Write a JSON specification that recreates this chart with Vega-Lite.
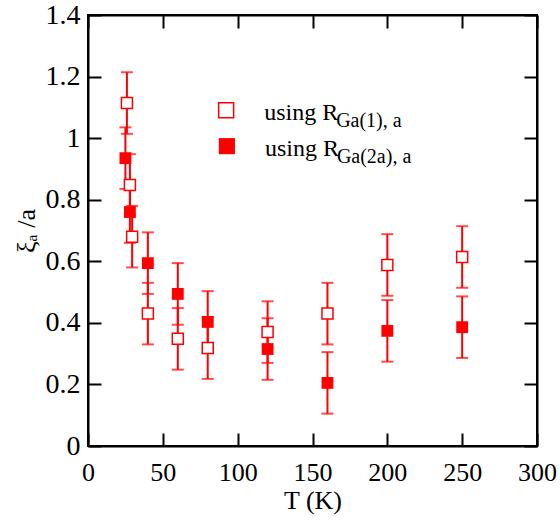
{
  "$schema": "https://vega.github.io/schema/vega-lite/v6.json",
  "autosize": "none",
  "width": 449,
  "height": 431,
  "padding": {"left": 88, "top": 15, "right": 23, "bottom": 80},
  "background": "white",
  "config": {
    "font": "Liberation Serif",
    "view": {"stroke": "black", "strokeWidth": 2},
    "axis": {
      "domainColor": "black", "domainWidth": 2,
      "tickColor": "black", "tickWidth": 2, "tickSize": -13,
      "labelFont": "Liberation Serif", "labelFontSize": 26, "labelColor": "black", "labelFlush": false, "labelOverlap": false,
      "titleFont": "Liberation Serif", "titleFontSize": 26, "titleFontWeight": "normal", "titleColor": "black",
      "grid": false
    }
  },
  "datasets": {
    "pts": [
      {"T": 26, "v": 1.114, "lo": 1.014, "hi": 1.214, "series": "open"},
      {"T": 28, "v": 0.848, "lo": 0.748, "hi": 0.948, "series": "open"},
      {"T": 29.5, "v": 0.68, "lo": 0.58, "hi": 0.78, "series": "open"},
      {"T": 40, "v": 0.43, "lo": 0.33, "hi": 0.53, "series": "open"},
      {"T": 60, "v": 0.348, "lo": 0.248, "hi": 0.448, "series": "open"},
      {"T": 80, "v": 0.318, "lo": 0.218, "hi": 0.418, "series": "open"},
      {"T": 120, "v": 0.37, "lo": 0.27, "hi": 0.47, "series": "open"},
      {"T": 160, "v": 0.43, "lo": 0.33, "hi": 0.53, "series": "open"},
      {"T": 200, "v": 0.588, "lo": 0.488, "hi": 0.688, "series": "open"},
      {"T": 250, "v": 0.614, "lo": 0.514, "hi": 0.714, "series": "open"},
      {"T": 25, "v": 0.935, "lo": 0.835, "hi": 1.035, "series": "filled"},
      {"T": 28, "v": 0.76, "lo": 0.66, "hi": 0.86, "series": "filled"},
      {"T": 40, "v": 0.594, "lo": 0.494, "hi": 0.694, "series": "filled"},
      {"T": 60, "v": 0.494, "lo": 0.394, "hi": 0.594, "series": "filled"},
      {"T": 80, "v": 0.403, "lo": 0.303, "hi": 0.503, "series": "filled"},
      {"T": 120, "v": 0.315, "lo": 0.215, "hi": 0.415, "series": "filled"},
      {"T": 160, "v": 0.205, "lo": 0.105, "hi": 0.305, "series": "filled"},
      {"T": 200, "v": 0.374, "lo": 0.274, "hi": 0.474, "series": "filled"},
      {"T": 250, "v": 0.386, "lo": 0.286, "hi": 0.486, "series": "filled"}
    ],
    "leg": [
      {"T": 92.3, "v": 1.091, "series": "open", "main": "using R", "sub": "Ga(1), a"},
      {"T": 92.8, "v": 0.974, "series": "filled", "main": "using R", "sub": "Ga(2a), a"}
    ],
    "frame": [{"T": 0, "v": 0}]
  },
  "layer": [
    {
      "layer": [
        {
          "data": {"name": "pts"},
          "mark": {"type": "errorbar", "ticks": true, "size": 12, "thickness": 2, "color": "#ff0000"},
          "encoding": {
            "x": {"field": "T", "type": "quantitative", "scale": {"domain": [0, 300]},
                  "axis": {"values": [0, 50, 100, 150, 200, 250, 300], "format": "d", "title": "T (K)", "labelPadding": 26, "titlePadding": 2}},
            "y": {"field": "lo", "type": "quantitative", "scale": {"domain": [0, 1.4]},
                  "axis": {"values": [0, 0.2, 0.4, 0.6, 0.8, 1, 1.2, 1.4], "format": ".1~f", "labelFontSize": 28, "title": "ξₐ /a", "labelPadding": 21, "titlePadding": 6}},
            "y2": {"field": "hi"}
          }
        },
        {
          "data": {"name": "pts"},
          "transform": [{"filter": "datum.series === 'filled'"}],
          "mark": {"type": "point", "shape": "square", "filled": true, "color": "#ff0000", "size": 140, "opacity": 1},
          "encoding": {
            "x": {"field": "T", "type": "quantitative"},
            "y": {"field": "v", "type": "quantitative"}
          }
        },
        {
          "data": {"name": "pts"},
          "transform": [{"filter": "datum.series === 'open'"}],
          "mark": {"type": "point", "shape": "square", "filled": true, "fill": "white", "stroke": "#ff0000", "strokeWidth": 1.5, "size": 121, "opacity": 1},
          "encoding": {
            "x": {"field": "T", "type": "quantitative"},
            "y": {"field": "v", "type": "quantitative"}
          }
        },
        {
          "data": {"name": "leg"},
          "transform": [{"filter": "datum.series === 'open'"}],
          "mark": {"type": "point", "shape": "square", "filled": true, "fill": "white", "stroke": "#ff0000", "strokeWidth": 1.5, "size": 225, "opacity": 1},
          "encoding": {
            "x": {"field": "T", "type": "quantitative"},
            "y": {"field": "v", "type": "quantitative"}
          }
        },
        {
          "data": {"name": "leg"},
          "transform": [{"filter": "datum.series === 'filled'"}],
          "mark": {"type": "point", "shape": "square", "filled": true, "color": "#ff0000", "size": 260, "opacity": 1},
          "encoding": {
            "x": {"field": "T", "type": "quantitative"},
            "y": {"field": "v", "type": "quantitative"}
          }
        },
        {
          "data": {"name": "leg"},
          "mark": {"type": "text", "align": "left", "baseline": "alphabetic", "fontSize": 24, "dx": 38, "dy": 10, "color": "black"},
          "encoding": {
            "x": {"field": "T", "type": "quantitative"},
            "y": {"field": "v", "type": "quantitative"},
            "text": {"field": "main"}
          }
        },
        {
          "data": {"name": "leg"},
          "mark": {"type": "text", "align": "left", "baseline": "alphabetic", "fontSize": 20, "dx": 110, "dy": 17, "color": "black"},
          "encoding": {
            "x": {"field": "T", "type": "quantitative"},
            "y": {"field": "v", "type": "quantitative"},
            "text": {"field": "sub"}
          }
        }
      ]
    },
    {
      "data": {"name": "frame"},
      "mark": {"type": "point", "opacity": 0},
      "encoding": {
        "x": {"field": "T", "type": "quantitative", "scale": {"domain": [0, 300]},
              "axis": {"orient": "top", "values": [0, 50, 100, 150, 200, 250, 300], "labels": false, "title": null}},
        "y": {"field": "v", "type": "quantitative", "scale": {"domain": [0, 1.4]},
              "axis": {"orient": "right", "values": [0, 0.2, 0.4, 0.6, 0.8, 1, 1.2, 1.4], "labels": false, "title": null}}
      }
    }
  ],
  "resolve": {"scale": {"x": "independent", "y": "independent"}}
}
